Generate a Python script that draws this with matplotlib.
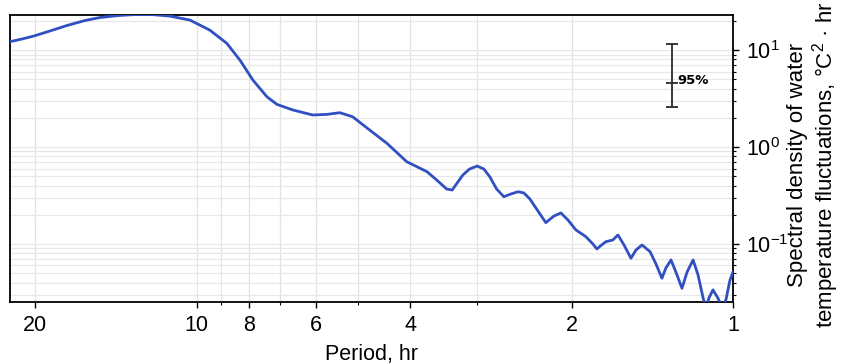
import matplotlib.pyplot as plt
from matplotlib.ticker import FixedLocator, NullFormatter, LogLocator
import numpy as np

# period (hr) and spectral density (degC^2 hr)
period = [22.33, 21.21, 20.15, 18.81, 17.48, 16.18, 15.17, 14.04, 13.05, 12.13,
          11.23, 10.30, 9.46, 8.79, 8.31, 7.86, 7.40, 7.09, 6.62, 6.08,
          5.72, 5.41, 5.12, 4.76, 4.42, 4.06, 3.72, 3.57, 3.42, 3.34,
          3.19, 3.10, 3.00, 2.915, 2.84, 2.76, 2.675, 2.595, 2.518, 2.455,
          2.392, 2.311, 2.234, 2.158, 2.094, 2.032, 1.963, 1.881, 1.825, 1.794,
          1.763, 1.726, 1.675, 1.639, 1.597, 1.550, 1.517, 1.478, 1.428, 1.392,
          1.357, 1.334, 1.305, 1.278, 1.245, 1.218, 1.187, 1.162, 1.137, 1.123,
          1.109, 1.090, 1.067, 1.048, 1.031, 1.013, 1.0]
psd = [12.18, 12.98, 13.94, 15.70, 17.89, 20.15, 21.63, 22.69, 23.23, 23.23,
       22.41, 20.39, 16.08, 11.73, 7.89, 4.91, 3.30, 2.755, 2.41, 2.14,
       2.17, 2.26, 2.05, 1.497, 1.092, 0.706, 0.556, 0.457, 0.369, 0.360,
       0.515, 0.593, 0.637, 0.593, 0.491, 0.369, 0.307, 0.328, 0.346, 0.336,
       0.291, 0.219, 0.166, 0.194, 0.209, 0.177, 0.1394, 0.1189, 0.100, 0.0888,
       0.0965, 0.1056, 0.110, 0.1238, 0.0977, 0.0712, 0.0867, 0.0977, 0.0833, 0.0622,
       0.0443, 0.0566, 0.0684, 0.0514, 0.0349, 0.0514, 0.0684, 0.0479, 0.0277, 0.0219,
       0.0277, 0.0336, 0.0277, 0.0219, 0.0265, 0.0425, 0.0514]

# 95% confidence bar
ci_period = 1.30
ci_mid = 4.57
ci_low = 2.58
ci_high = 11.5

xticks = [20, 10, 8, 6, 4, 2, 1]
xminor = [9, 7, 5, 3]
xgrid = [20, 10, 9, 8, 7, 6, 5, 4, 3, 2]

plt.rcParams['font.family'] = ['Liberation Sans', 'DejaVu Sans']
plt.rcParams['mathtext.fontset'] = 'custom'
plt.rcParams['mathtext.rm'] = 'Liberation Sans'
plt.rcParams['axes.unicode_minus'] = False

fig = plt.figure(figsize=(8.41, 3.64), dpi=100)
ax = fig.add_axes([0.0119, 0.1703, 0.8597, 0.7885])

ax.plot(period, psd, color='#3050c2', lw=2.0, zorder=3, solid_joinstyle='round')

ax.set_xscale('log')
ax.set_yscale('log')
ax.set_xlim(22.3, 1.0)
ax.set_ylim(0.0252, 23.0)

# x ticks only at chosen periods
ax.xaxis.set_major_locator(FixedLocator(xticks))
ax.xaxis.set_minor_locator(FixedLocator(xminor))
ax.set_xticklabels([str(t) for t in xticks])
ax.xaxis.set_minor_formatter(NullFormatter())
for g in xgrid:
    ax.axvline(g, color='#e3e3e3', lw=0.9, zorder=0)

# y axis on the right
ax.yaxis.tick_right()
ax.yaxis.set_major_locator(LogLocator(base=10))
ax.yaxis.set_minor_locator(LogLocator(base=10, subs=np.arange(2, 10)))
ax.yaxis.set_minor_formatter(NullFormatter())
ax.grid(True, axis='y', which='both', color='#e8e8e8', lw=0.9, zorder=0)

ax.tick_params(axis='both', which='major', labelsize=15.5, direction='out', length=4, width=1)
ax.tick_params(axis='both', which='minor', direction='out', length=2.5, width=0.8)
ax.tick_params(axis='y', which='both', pad=5)
ax.tick_params(axis='x', which='major', pad=5)
for s in ax.spines.values():
    s.set_linewidth(1.3)

ax.set_xlabel('Period, hr', fontsize=15.5, labelpad=6)
fig.text(814 / 841, 1 - 165 / 364,
         'Spectral density of water\ntemperature fluctuations, °C$^{2}$ · hr',
         fontsize=16, rotation=90, linespacing=1.1,
         ha='center', va='center', multialignment='center')

# confidence interval marker
ax.errorbar([ci_period], [ci_mid], yerr=[[ci_mid - ci_low], [ci_high - ci_mid]],
            fmt='none', ecolor='#2a2a2a', elinewidth=1.3, capsize=4.5, capthick=1.3, zorder=4)
ax.plot([ci_period], [ci_mid], marker='_', ms=9, mew=1.3, color='#2a2a2a', zorder=4)
ax.annotate('95%', (ci_period, ci_mid), xytext=(4, 2), textcoords='offset points',
            fontsize=9.5, fontweight='bold', family='DejaVu Sans', va='center', ha='left')

fig.savefig('out.png', dpi=100)
